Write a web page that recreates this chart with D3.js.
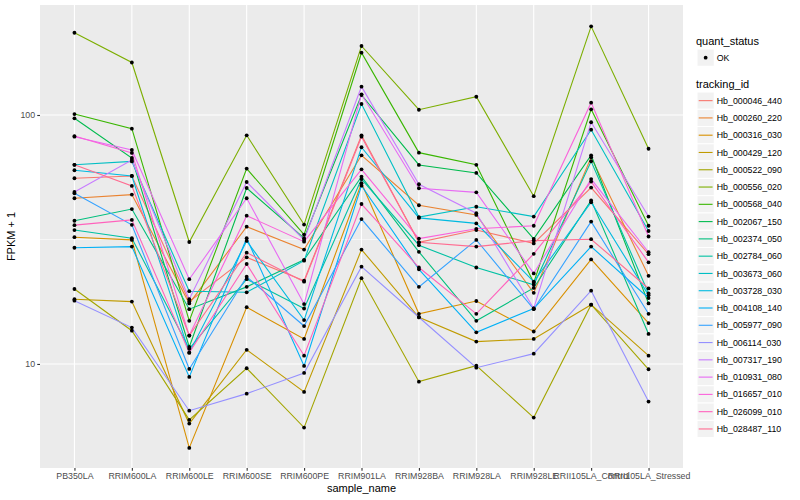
<!DOCTYPE html>
<html lang="en">
<head>
<meta charset="UTF-8">
<title>FPKM by sample</title>
<script src="https://d3js.org/d3.v7.min.js"></script>
<style>
  body { margin: 0; background: #fff; }
  text { font-family: "Liberation Sans", Arial, sans-serif; }
</style>
</head>
<body>
<div id="chart"></div>
<script>
// categories on the x axis
const samples = ["PB350LA", "RRIM600LA", "RRIM600LE", "RRIM600SE", "RRIM600PE", "RRIM901LA",
  "RRIM928BA", "RRIM928LA", "RRIM928LE", "RRII105LA_Control", "RRII105LA_Stressed"];

const trackingIds = ["Hb_000046_440", "Hb_000260_220", "Hb_000316_030", "Hb_000429_120", "Hb_000522_090",
  "Hb_000556_020", "Hb_000568_040", "Hb_002067_150", "Hb_002374_050", "Hb_002784_060",
  "Hb_003673_060", "Hb_003728_030", "Hb_004108_140", "Hb_005977_090", "Hb_006114_030",
  "Hb_007317_190", "Hb_010931_080", "Hb_016657_010", "Hb_026099_010", "Hb_028487_110"];

// FPKM + 1 per gene, one value per sample (same order as samples)
const hb_000046_440 = [55.7, 56.9, 17.8, 26.8, 21.6, 82.9, 30.8, 34.5, 30.5, 51.1, 27.6];
const hb_000260_220 = [46.3, 47.9, 17.5, 35.6, 28.8, 68.9, 43.4, 39.7, 19.3, 67.6, 22.6];
const hb_000316_030 = [32.3, 31.5, 4.6, 16.9, 12.6, 53.2, 15.9, 17.9, 13.5, 26.3, 14.6];
const hb_000429_120 = [18.2, 17.8, 5.76, 11.4, 7.72, 28.8, 15.4, 12.3, 12.6, 17.3, 10.8];
const hb_000522_090 = [20.0, 13.6, 5.96, 9.61, 5.55, 22.1, 8.49, 9.84, 6.09, 17.3, 9.52];
const hb_000556_020 = [214, 162.5, 30.9, 82.9, 36.3, 189.3, 105.0, 118.4, 47.2, 227, 73.2];
const hb_000568_040 = [100.9, 88.1, 14.9, 60.9, 33.1, 177.9, 70.6, 63.1, 21.2, 105.4, 35.9];
const hb_002067_150 = [97.0, 67.2, 11.7, 50.9, 32.0, 120.3, 63.0, 58.5, 31.8, 68.9, 17.5];
const hb_002374_050 = [37.6, 41.9, 16.6, 20.4, 26.2, 56.5, 28.2, 14.9, 20.2, 45.4, 13.2];
const hb_002784_060 = [34.5, 32.0, 11.5, 21.9, 16.7, 55.3, 30.0, 24.4, 20.8, 65.2, 19.2];
const hb_003673_060 = [63.1, 65.1, 19.6, 19.4, 26.0, 110.7, 38.9, 42.8, 39.1, 87.3, 34.2];
const hb_003728_030 = [60.0, 56.9, 11.1, 31.2, 15.0, 74.2, 38.6, 36.7, 21.4, 44.6, 18.9];
const hb_004108_140 = [29.3, 29.6, 8.87, 32.0, 9.82, 52.0, 24.0, 13.4, 16.7, 29.6, 18.4];
const hb_005977_090 = [48.5, 36.2, 9.55, 22.4, 14.2, 38.2, 20.4, 31.5, 16.6, 37.3, 15.9];
const hb_006114_030 = [17.96, 14.0, 6.49, 7.60, 9.20, 24.6, 15.4, 9.66, 11.0, 19.7, 7.06];
const hb_007317_190 = [49.1, 66.0, 18.2, 53.8, 31.5, 130.0, 52.7, 40.3, 16.7, 93.5, 39.1];
const hb_010931_080 = [81.8, 72.4, 21.9, 46.3, 17.4, 121.1, 50.8, 48.9, 23.1, 55.3, 28.1];
const hb_016657_010 = [82.3, 70.4, 13.0, 39.4, 31.0, 60.5, 31.9, 34.9, 35.9, 112.1, 32.5];
const hb_026099_010 = [36.1, 37.9, 11.1, 25.2, 10.8, 43.9, 24.4, 15.9, 27.7, 54.0, 25.6];
const hb_028487_110 = [63.1, 51.9, 13.0, 28.0, 21.4, 81.8, 30.8, 29.6, 31.3, 31.7, 20.1];

const seriesValues = [hb_000046_440, hb_000260_220, hb_000316_030, hb_000429_120, hb_000522_090,
  hb_000556_020, hb_000568_040, hb_002067_150, hb_002374_050, hb_002784_060,
  hb_003673_060, hb_003728_030, hb_004108_140, hb_005977_090, hb_006114_030,
  hb_007317_190, hb_010931_080, hb_016657_010, hb_026099_010, hb_028487_110];

const yTicks = [10, 100];

// default ggplot hue palette for 20 levels
const hueColors = ["#F8766D", "#EA8331", "#D89000", "#C09B00", "#A3A500", "#7CAE00", "#39B600", "#00BB4E",
  "#00BF7D", "#00C1A3", "#00BFC4", "#00BAE0", "#00B0F6", "#35A2FF", "#9590FF", "#C77CFF",
  "#E76BF3", "#FA62DB", "#FF62BC", "#FF6C91"];

const width = 800, height = 500;
const panel = {left: 40, top: 5, right: 683, bottom: 468};

const svg = d3.select("#chart").append("svg")
  .attr("width", width)
  .attr("height", height);

const x = d3.scalePoint()
  .domain(samples)
  .range([panel.left, panel.right])
  .padding(0.6);

const y = d3.scaleLog()
  .domain([3.82, 276.6])
  .range([panel.bottom, panel.top]);

const color = d3.scaleOrdinal()
  .domain(trackingIds)
  .range(hueColors);

// panel background
svg.append("rect")
  .attr("x", panel.left)
  .attr("y", panel.top)
  .attr("width", panel.right - panel.left)
  .attr("height", panel.bottom - panel.top)
  .attr("fill", "#EBEBEB");

// minor gridline halfway between the decades
svg.append("line")
  .attr("x1", panel.left).attr("x2", panel.right)
  .attr("y1", y(Math.sqrt(1000))).attr("y2", y(Math.sqrt(1000)))
  .attr("stroke", "#fff").attr("stroke-width", 0.55);

svg.selectAll(".hgrid")
  .data(yTicks)
  .enter().append("line")
  .attr("x1", panel.left).attr("x2", panel.right)
  .attr("y1", d => y(d)).attr("y2", d => y(d))
  .attr("stroke", "#fff").attr("stroke-width", 1.1);

svg.selectAll(".vgrid")
  .data(samples)
  .enter().append("line")
  .attr("x1", d => x(d)).attr("x2", d => x(d))
  .attr("y1", panel.top).attr("y2", panel.bottom)
  .attr("stroke", "#fff").attr("stroke-width", 1.1);

// one line per gene
const line = d3.line()
  .x((d, i) => x(samples[i]))
  .y(d => y(d));

svg.selectAll(".gene")
  .data(seriesValues)
  .enter().append("path")
  .attr("d", line)
  .attr("fill", "none")
  .attr("stroke", (d, i) => color(trackingIds[i]))
  .attr("stroke-width", 1.1);

const points = [];
seriesValues.forEach(vals => vals.forEach((v, i) => points.push({s: samples[i], v: v})));

svg.selectAll(".pt")
  .data(points)
  .enter().append("circle")
  .attr("cx", d => x(d.s))
  .attr("cy", d => y(d.v))
  .attr("r", 1.9)
  .attr("fill", "#000");

// axes
const xAxis = svg.append("g")
  .attr("transform", "translate(0," + panel.bottom + ")")
  .call(d3.axisBottom(x).tickSize(2.75).tickPadding(2.2));

const yAxis = svg.append("g")
  .attr("transform", "translate(" + panel.left + ",0)")
  .call(d3.axisLeft(y).tickValues(yTicks).tickFormat(d3.format("d")).tickSize(2.75).tickPadding(2.2));

[xAxis, yAxis].forEach(g => {
  g.select(".domain").remove();
  g.selectAll(".tick line").attr("stroke", "#333333").attr("stroke-width", 1.1);
  g.selectAll(".tick text")
    .attr("fill", "#4D4D4D")
    .style("font-size", "8.8px")
    .style("font-family", "'Liberation Sans', Arial, sans-serif");
});

svg.append("text")
  .attr("x", (panel.left + panel.right) / 2)
  .attr("y", 492)
  .attr("text-anchor", "middle")
  .style("font-size", "11px")
  .text("sample_name");

svg.append("text")
  .attr("transform", "translate(15," + (panel.top + panel.bottom) / 2 + ") rotate(-90)")
  .attr("text-anchor", "middle")
  .style("font-size", "11px")
  .text("FPKM + 1");

// legends
const lg = svg.append("g").attr("transform", "translate(697,0)");
const keySize = 17.28;

lg.append("text").attr("x", -1).attr("y", 44.5).style("font-size", "11px").text("quant_status");
lg.append("rect")
  .attr("x", 0).attr("y", 49).attr("width", keySize).attr("height", keySize)
  .attr("fill", "#F2F2F2").attr("stroke", "#fff");
lg.append("circle").attr("cx", keySize / 2).attr("cy", 49 + keySize / 2).attr("r", 1.9).attr("fill", "#000");
lg.append("text").attr("x", keySize + 2.5).attr("y", 49 + keySize / 2 + 3).style("font-size", "8.8px").text("OK");

lg.append("text").attr("x", -1).attr("y", 88).style("font-size", "11px").text("tracking_id");

const keys = lg.selectAll(".key")
  .data(trackingIds)
  .enter().append("g")
  .attr("transform", (d, i) => "translate(0," + (92 + i * keySize) + ")");

keys.append("rect")
  .attr("width", keySize).attr("height", keySize)
  .attr("fill", "#F2F2F2").attr("stroke", "#fff");

keys.append("line")
  .attr("x1", 1.7).attr("x2", keySize - 1.7)
  .attr("y1", keySize / 2).attr("y2", keySize / 2)
  .attr("stroke", d => color(d)).attr("stroke-width", 1.1);

keys.append("text")
  .attr("x", keySize + 2.5)
  .attr("y", keySize / 2 + 3.1)
  .style("font-size", "8.8px")
  .text(d => d);
</script>
</body>
</html>
